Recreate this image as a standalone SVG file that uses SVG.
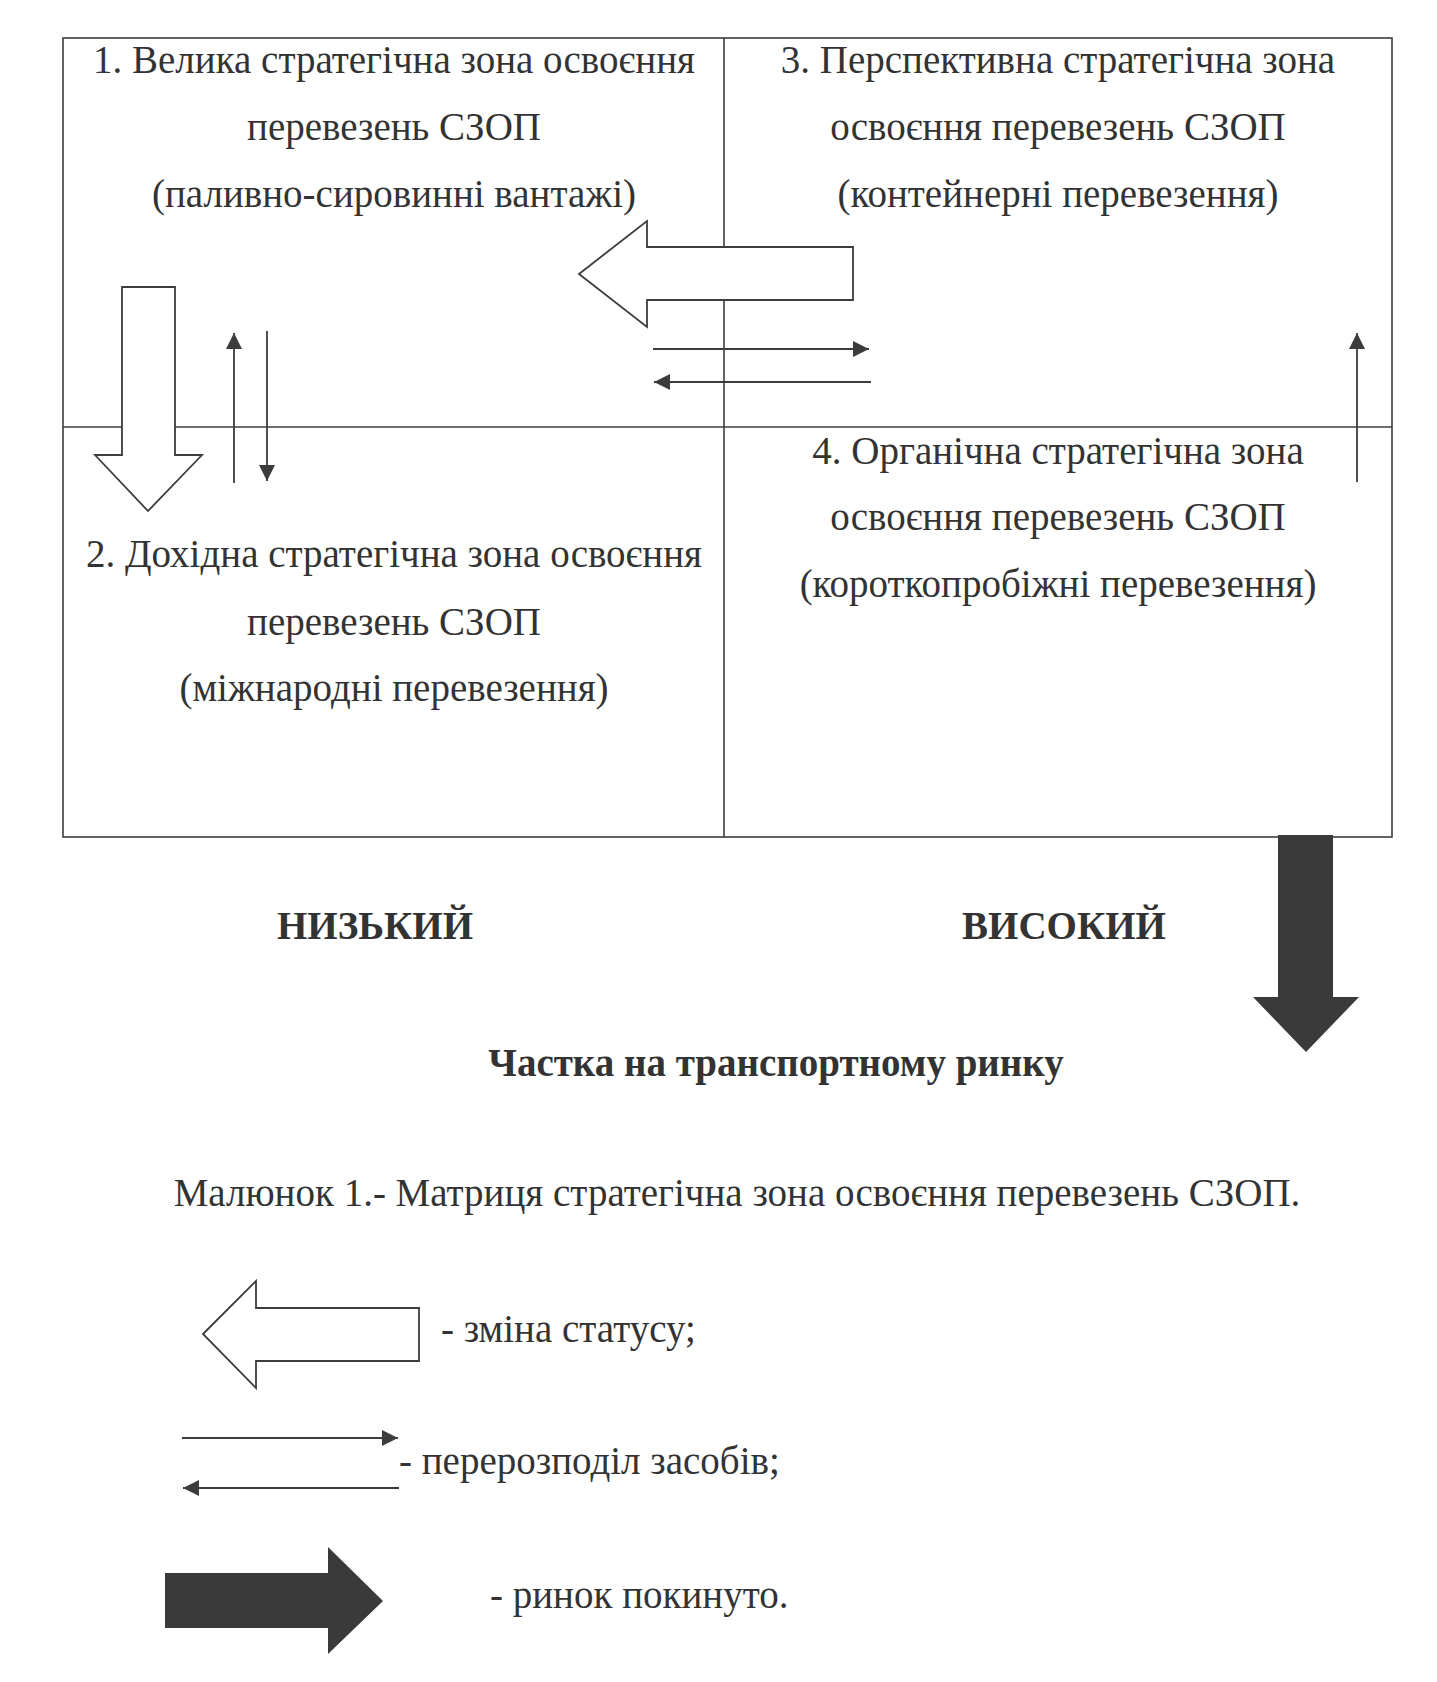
<svg xmlns="http://www.w3.org/2000/svg" width="1437" height="1682" viewBox="0 0 1437 1682">
<defs>
<marker id="ah" viewBox="0 0 16 16" refX="16" refY="8" markerWidth="16" markerHeight="16" markerUnits="userSpaceOnUse" orient="auto"><path d="M0,0 L16,8 L0,16 Z" fill="#3c3c3c"/></marker>
<style>
.ln{stroke:#3c3c3c;stroke-width:1.6;fill:none}
.th{stroke:#3c3c3c;stroke-width:1.8;fill:none;marker-end:url(#ah)}
.hol{fill:#fff;stroke:#3c3c3c;stroke-width:1.8}
.blk{fill:#3a3a3a;stroke:none}
.t{font-family:"Liberation Serif","Times New Roman",serif;font-size:39px;fill:#333;text-anchor:middle}
.b{font-family:"Liberation Serif","Times New Roman",serif;font-size:39px;font-weight:bold;fill:#333;text-anchor:middle}
.lg{font-family:"Liberation Serif","Times New Roman",serif;font-size:39px;fill:#333}
</style>
</defs>
<rect width="1437" height="1682" fill="#fff"/>
<g id="matrix">
<rect class="ln" x="63" y="38" width="1329" height="799"/>
<line class="ln" x1="63" y1="427" x2="1392" y2="427"/>
<line class="ln" x1="724" y1="38" x2="724" y2="837"/>
</g>
<g id="zone1">
<text class="t" x="394" y="73">1. Велика стратегічна зона освоєння</text>
<text class="t" x="394" y="140">перевезень СЗОП</text>
<text class="t" x="394" y="207">(паливно-сировинні вантажі)</text>
</g>
<g id="zone3">
<text class="t" x="1058" y="73">3. Перспективна стратегічна зона</text>
<text class="t" x="1058" y="140">освоєння перевезень СЗОП</text>
<text class="t" x="1058" y="207">(контейнерні перевезення)</text>
</g>
<g id="zone2">
<text class="t" x="394" y="567">2. Дохідна стратегічна зона освоєння</text>
<text class="t" x="394" y="635">перевезень СЗОП</text>
<text class="t" x="394" y="701">(міжнародні перевезення)</text>
</g>
<g id="zone4">
<text class="t" x="1058" y="464">4. Органічна стратегічна зона</text>
<text class="t" x="1058" y="530">освоєння перевезень СЗОП</text>
<text class="t" x="1058" y="597">(короткопробіжні перевезення)</text>
</g>
<g id="connectors">
<polygon class="hol" points="579,274 647,221 647,247 853,247 853,300 647,300 647,327"/>
<polygon class="hol" points="122,287 175,287 175,455 202,455 148,511 95,455 122,455"/>
<line class="th" x1="234" y1="483" x2="234" y2="333"/>
<line class="th" x1="267" y1="331" x2="267" y2="481"/>
<line class="th" x1="653" y1="349" x2="869" y2="349"/>
<line class="th" x1="871" y1="382" x2="654" y2="382"/>
<line class="th" x1="1357" y1="482" x2="1357" y2="333"/>
<polygon class="blk" points="1278,835 1333,835 1333,997 1359,997 1306,1052 1253,997 1278,997"/>
</g>
<g id="axis">
<text class="b" x="375" y="939">НИЗЬКИЙ</text>
<text class="b" x="1064" y="939">ВИСОКИЙ</text>
<text class="b" x="776" y="1076">Частка на транспортному ринку</text>
</g>
<g id="caption">
<text class="t" x="737" y="1206">Малюнок 1.- Матриця стратегічна зона освоєння перевезень СЗОП.</text>
</g>
<g id="legend">
<polygon class="hol" points="203,1334 256,1281 256,1308 419,1308 419,1361 256,1361 256,1388"/>
<text class="lg" x="441" y="1342">- зміна статусу;</text>
<line class="th" x1="182" y1="1438" x2="398" y2="1438"/>
<line class="th" x1="399" y1="1488" x2="183" y2="1488"/>
<text class="lg" x="399" y="1474">- перерозподіл засобів;</text>
<polygon class="blk" points="165,1573 328,1573 328,1547 383,1601 328,1654 328,1628 165,1628"/>
<text class="lg" x="490" y="1608">- ринок покинуто.</text>
</g>
</svg>
